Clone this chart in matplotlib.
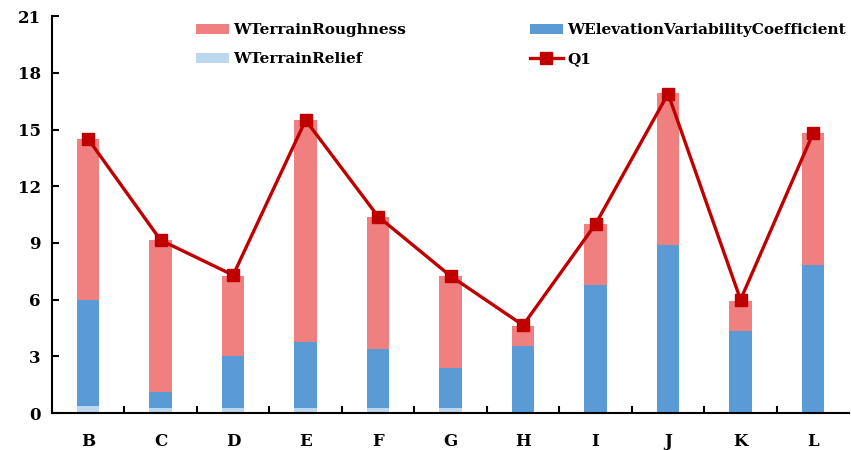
import matplotlib.pyplot as plt
import numpy as np

# ------------------------------------------------------------------------------------

categories = ["B", "C", "D", "E", "F", "G", "H", "I", "J", "K", "L"]
relief = [0.4, 0.25, 0.25, 0.25, 0.25, 0.25, 0, 0, 0, 0, 0]
elevation = [5.6, 0.85, 2.75, 3.5, 3.15, 2.15, 3.55, 6.77, 8.9, 4.34, 7.83]
roughness = [8.5, 8.05, 4.25, 11.75, 6.97, 4.85, 1.05, 3.23, 8.03, 1.6, 6.97]
q1 = [14.5, 9.15, 7.3, 15.5, 10.4, 7.25, 4.65, 10.0, 16.9, 6.0, 14.8]

# ------------------------------------------------------------------------------------

plt.rcParams["font.family"] = ["DejaVu Serif"]
plt.rcParams["font.weight"] = "bold"

fig = plt.figure(figsize=(8.51, 4.5), dpi=100)
ax = fig.add_axes([0.061, 0.082, 0.937, 0.882])

x = np.arange(len(categories))
w = 0.31
b1 = ax.bar(x, relief, w, color="#BDD7EE", label="WTerrainRelief")
b2 = ax.bar(x, elevation, w, bottom=relief, color="#5B9BD5",
            label="WElevationVariabilityCoefficient")
bottom2 = np.array(relief) + np.array(elevation)
b3 = ax.bar(x, roughness, w, bottom=bottom2, color="#F08080",
            label="WTerrainRoughness")
l1, = ax.plot(x, q1, color="#C00000", lw=2.4, marker="s", markersize=8, label="Q1")

ax.set_xlim(-0.5, len(categories) - 0.5)
ax.set_ylim(0, 21)
ax.set_yticks(range(0, 22, 3))
ax.set_xticks(x)
ax.set_xticklabels(categories)
ax.set_xticks(np.arange(0.5, len(categories) - 1, 1), minor=True)
ax.tick_params(axis="x", which="major", length=0, pad=14, labelsize=12)
ax.tick_params(axis="x", which="minor", direction="in", length=5, width=1.5)
ax.tick_params(axis="y", direction="in", length=5, width=1.5, labelsize=12, pad=8)

for s in ["top", "right"]:
    ax.spines[s].set_visible(False)
for s in ["left", "bottom"]:
    ax.spines[s].set_linewidth(1.5)

ax.legend([b3, b1, b2, l1],
          ["WTerrainRoughness", "WTerrainRelief",
           "WElevationVariabilityCoefficient", "Q1"],
          ncol=2, loc="upper left", bbox_to_anchor=(0.163, 1.017), frameon=False,
          fontsize=11, handlelength=2.2, columnspacing=8.1, labelspacing=1.0,
          handletextpad=0.25)

fig.savefig("out.png", dpi=100)
